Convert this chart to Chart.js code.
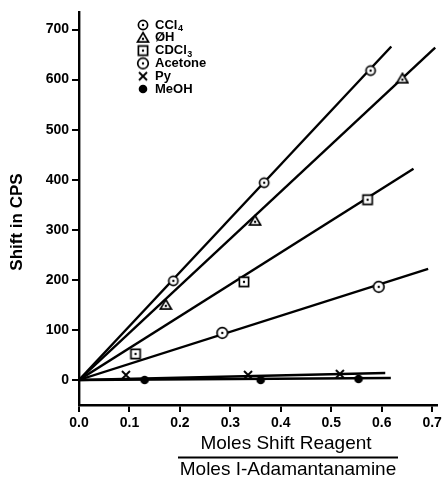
<!DOCTYPE html>
<html>
<head>
<meta charset="utf-8">
<script src="https://cdn.jsdelivr.net/npm/chart.js@4.4.0/dist/chart.umd.min.js"></script>
<style>
  html,body{margin:0;padding:0;background:#fff}
  #wrap{width:445px;height:483px}
</style>
</head>
<body>
<div id="wrap"><canvas id="chart" width="445" height="483"></canvas></div>
<script>
// values
const xTicks=[0,0.1,0.2,0.3,0.4,0.5,0.6,0.7]
const yTicks=[0,100,200,300,400,500,600,700]

const ccl4X=[0.187,0.367,0.578]
const ccl4Y=[198,394,618]
const phX=[0.172,0.349,0.641]
const phY=[150,318,602]
const cdcl3X=[0.112,0.327,0.572]
const cdcl3Y=[52,196,360]
const acetoneX=[0.284,0.594]
const acetoneY=[94,186]
const pyX=[0.093,0.335,0.517]
const pyY=[10,10,12]
const meohX=[0.130,0.360,0.554]
const meohY=[0,0,2]

// fitted lines, start and end
const ccl4Line=[[0,0],[0.619,666]]
const phLine=[[0,0],[0.706,664]]
const cdcl3Line=[[0,0],[0.663,422]]
const acetoneLine=[[0,0],[0.692,222]]
const pyLine=[[0,0],[0.607,14]]
const meohLine=[[0,0],[0.618,4]]

const names=["CCl|4","\u00D8H","CDCl|3","Acetone","Py","MeOH"]

function sym(type){
  const c=document.createElement('canvas')
  c.width=14;c.height=14
  const g=c.getContext('2d')
  g.strokeStyle='#000';g.fillStyle='#fff';g.lineWidth=1.7
  const m=7
  g.beginPath()
  if(type=='circle'){g.arc(m,m,4.6,0,Math.PI*2)}
  if(type=='bigcircle'){g.arc(m,m,5.3,0,Math.PI*2)}
  if(type=='tri'){g.moveTo(m,m-5.2);g.lineTo(m+5.6,m+4.2);g.lineTo(m-5.6,m+4.2);g.closePath()}
  if(type=='rect'){g.rect(m-4.6,m-4.6,9.2,9.2)}
  if(type=='cross'){
    g.moveTo(m-4,m-4);g.lineTo(m+4,m+4);g.moveTo(m+4,m-4);g.lineTo(m-4,m+4)
    g.lineWidth=1.9;g.stroke();return c
  }
  if(type=='dot'){g.arc(m,m,4.3,0,Math.PI*2);g.fillStyle='#000';g.fill();return c}
  g.fill();g.stroke()
  g.beginPath();g.arc(m,m+(type=='tri'?1:0),1.2,0,Math.PI*2);g.fillStyle='#000';g.fill()
  return c
}
const syms=[sym('circle'),sym('tri'),sym('rect'),sym('bigcircle'),sym('cross'),sym('dot')]

function pts(xs,ys){
  const out=[]
  for(let i=0;i<xs.length;i++){out.push({x:xs[i],y:ys[i]})}
  return out
}
function line(l){
  return {type:'line',data:l.map(p=>({x:p[0],y:p[1]})),borderColor:'#000',borderWidth:2.4,
    pointRadius:0,fill:false,order:2}
}
function marks(xs,ys,s){
  return {type:'scatter',data:pts(xs,ys),pointStyle:s,pointRadius:6,order:1}
}

const legendPlugin={
  id:'legendAndTitles',
  afterDraw(chart){
    const ctx=chart.ctx
    ctx.save()
    // legend
    for(let i=0;i<names.length;i++){
      const y=25+i*12.8
      ctx.drawImage(syms[i],143-7,y-7)
      const parts=names[i].split('|')
      ctx.fillStyle='#000'
      ctx.textBaseline='middle'
      ctx.font='bold 13px "Liberation Sans", Arial, sans-serif'
      ctx.fillText(parts[0],155,y)
      if(parts[1]){
        const w=ctx.measureText(parts[0]).width
        ctx.font='bold 9px "Liberation Sans", Arial, sans-serif'
        ctx.fillText(parts[1],155+w+0.5,y+4)
      }
    }
    // y title
    ctx.font='bold 17px "Liberation Sans", Arial, sans-serif'
    ctx.textAlign='center'
    ctx.textBaseline='middle'
    ctx.translate(17,222)
    ctx.rotate(-Math.PI/2)
    ctx.fillText('Shift in CPS',0,0)
    ctx.restore()
    // x title as a fraction
    ctx.save()
    ctx.fillStyle='#000'
    ctx.textAlign='center'
    ctx.textBaseline='middle'
    ctx.font='19px "Liberation Sans", Arial, sans-serif'
    ctx.fillText('Moles Shift Reagent',286,444)
    ctx.fillText('Moles I-Adamantanamine',288,470)
    ctx.strokeStyle='#000'
    ctx.lineWidth=2
    ctx.beginPath();ctx.moveTo(178,457.5);ctx.lineTo(398,457.5);ctx.stroke()
    ctx.restore()
  }
}

new Chart('chart',{
  data:{
    datasets:[
      line(ccl4Line),line(phLine),line(cdcl3Line),line(acetoneLine),line(pyLine),line(meohLine),
      marks(ccl4X,ccl4Y,syms[0]),marks(phX,phY,syms[1]),marks(cdcl3X,cdcl3Y,syms[2]),
      marks(acetoneX,acetoneY,syms[3]),marks(pyX,pyY,syms[4]),marks(meohX,meohY,syms[5])
    ]
  },
  options:{
    responsive:false,
    animation:false,
    layout:{padding:{left:0,top:12,right:5,bottom:0}},
    plugins:{legend:{display:false},tooltip:{enabled:false}},
    scales:{
      x:{
        type:'linear',min:0,max:0.71,
        afterBuildTicks(s){s.ticks=xTicks.map(v=>({value:v}))},
        afterFit(s){s.height=78},
        grid:{drawOnChartArea:false,drawTicks:true,tickLength:7,color:'#000',lineWidth:2},
        border:{display:true,color:'#000',width:2.4},
        ticks:{color:'#000',padding:3,maxRotation:0,autoSkip:false,
          font:{family:'"Liberation Sans", Arial, sans-serif',size:14,weight:'bold'},
          callback:v=>v.toFixed(1)}
      },
      y:{
        type:'linear',min:-50,max:735,
        afterBuildTicks(s){s.ticks=yTicks.map(v=>({value:v}))},
        afterFit(s){s.width=79},
        grid:{drawOnChartArea:false,drawTicks:true,tickLength:7,color:'#000',lineWidth:2},
        border:{display:true,color:'#000',width:2.4},
        ticks:{color:'#000',padding:3,autoSkip:false,
          font:{family:'"Liberation Sans", Arial, sans-serif',size:14,weight:'bold'}}
      }
    }
  },
  plugins:[legendPlugin]
})
</script>
</body>
</html>
